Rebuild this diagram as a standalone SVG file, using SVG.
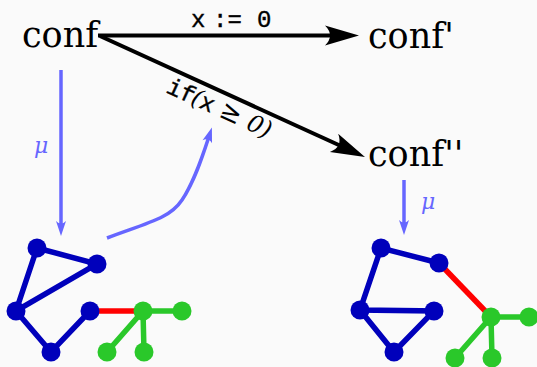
<svg xmlns="http://www.w3.org/2000/svg" width="537" height="367" viewBox="0 0 537 367">
<style>
.lbl{font-family:"DejaVu Serif",serif;font-size:35px;fill:#000}
.mu{font-family:"DejaVu Serif",serif;font-style:italic;font-size:22px;fill:#6666ff}
.tt{font-family:"Liberation Mono",monospace;font-size:24px;fill:#000;stroke:#000;stroke-width:0.4}
.mi{font-family:"DejaVu Serif",serif;font-style:italic;font-size:24px;fill:#000}
.ms{font-family:"DejaVu Sans",sans-serif;font-size:26px;fill:#000}
.blk{stroke:#000;stroke-width:4;fill:none}
.bl{stroke:#6666ff;stroke-width:3.5;fill:none}
.be{stroke:#0000bb;stroke-width:5.5;fill:none}
.ge{stroke:#2ac82a;stroke-width:5.5;fill:none}
.re{stroke:#ff0000;stroke-width:5.5;fill:none}
.bn{fill:#0000bb}
.gn{fill:#2ac82a}
</style>
<defs>
<marker id="ah" markerUnits="userSpaceOnUse" viewBox="-36 -12 38 24" markerWidth="38" markerHeight="24" refX="-27" refY="0" orient="auto" overflow="visible">
<path d="M0,0 L-34,-10 Q-24,0 -34,10 Z" fill="#000"/>
</marker>
<marker id="bh" markerUnits="userSpaceOnUse" viewBox="-17 -7 19 14" markerWidth="19" markerHeight="14" refX="-11" refY="0" orient="auto" overflow="visible">
<path d="M0,0 L-15,-5 Q-10,0 -15,5 Z" fill="#6666ff"/>
</marker>
</defs>
<rect width="537" height="367" fill="#fafafa"/>
<g id="connectors">
<line class="blk" x1="98" y1="35.5" x2="332" y2="35.5" marker-end="url(#ah)"/>
<line class="blk" x1="100" y1="36" x2="340.4" y2="145.8" marker-end="url(#ah)"/>
<line class="bl" x1="61" y1="70" x2="61" y2="225" marker-end="url(#bh)"/>
<line class="bl" x1="404" y1="180" x2="404" y2="224" marker-end="url(#bh)"/>
<path class="bl" d="M107,238 C150,222 170,218 182,200 C194,182 202,158 208.5,138" marker-end="url(#bh)"/>
<text class="tt" x="191" y="27">x</text>
<text class="tt" x="213" y="27">:=</text>
<text class="tt" x="257" y="27">0</text>
<g transform="translate(165,92) rotate(24.5)">
<text class="tt" x="0" y="0">if</text>
<text class="mi" x="27" y="0">(</text>
<text class="tt" x="36" y="0">x</text>
<text class="ms" x="58" y="0">≥</text>
<text class="mi" x="88" y="0">0</text>
<text class="mi" x="103" y="0">)</text>
</g>
<text class="mu" x="34" y="153">μ</text>
<text class="mu" x="421" y="209">μ</text>
</g>
<g id="conf"><text class="lbl" x="22" y="47">conf</text></g>
<g id="conf1"><text class="lbl" x="368" y="48">conf'</text></g>
<g id="conf2"><text class="lbl" x="368" y="166">conf''</text></g>
<g id="graph-left">
<path class="be" d="M37,248 L97,264 L16,311 Z M16,311 L51,352 L90,311"/>
<line class="re" x1="90" y1="311" x2="143" y2="311"/>
<path class="ge" d="M143,311 L182,311 M143,311 L107,352 M143,311 L144,352"/>
<circle class="bn" cx="37" cy="248" r="9.5"/>
<circle class="bn" cx="97" cy="264" r="9.5"/>
<circle class="bn" cx="16" cy="311" r="9.5"/>
<circle class="bn" cx="90" cy="311" r="9.5"/>
<circle class="bn" cx="51" cy="352" r="9.5"/>
<circle class="gn" cx="143" cy="311" r="9.5"/>
<circle class="gn" cx="182" cy="311" r="9.5"/>
<circle class="gn" cx="107" cy="352" r="9.5"/>
<circle class="gn" cx="144" cy="352" r="9.5"/>
</g>
<g id="graph-right">
<path class="be" d="M439,263 L381,248 L360,310 L434,311 L394,352 L360,310"/>
<line class="re" x1="439" y1="263" x2="491" y2="317"/>
<path class="ge" d="M491,317 L529,317 M491,317 L455,358 M491,317 L492,358"/>
<circle class="bn" cx="381" cy="248" r="9.5"/>
<circle class="bn" cx="439" cy="263" r="9.5"/>
<circle class="bn" cx="360" cy="310" r="9.5"/>
<circle class="bn" cx="434" cy="311" r="9.5"/>
<circle class="bn" cx="394" cy="352" r="9.5"/>
<circle class="gn" cx="491" cy="317" r="9.5"/>
<circle class="gn" cx="529" cy="317" r="9.5"/>
<circle class="gn" cx="455" cy="358" r="9.5"/>
<circle class="gn" cx="492" cy="358" r="9.5"/>
</g>
</svg>
